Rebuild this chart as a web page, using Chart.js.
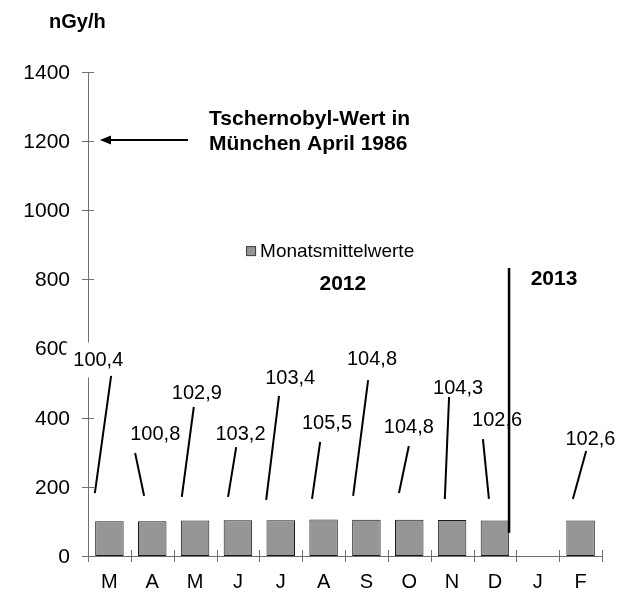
<!DOCTYPE html>
<html>
<head>
<meta charset="utf-8">
<script src="https://cdn.jsdelivr.net/npm/chart.js@4"></script>
<style>
body { margin: 0; background: #fff; }
</style>
</head>
<body>
<canvas id="doseChart" width="623" height="592"></canvas>
<script>
var months = ['M', 'A', 'M', 'J', 'J', 'A', 'S', 'O', 'N', 'D', 'J', 'F'];
var monthlyMeans = [100.4, 100.8, 102.9, 103.2, 103.4, 105.5, 104.8, 104.8, 104.3, 102.6, null, 102.6];
var yTicks = [0, 200, 400, 600, 800, 1000, 1200, 1400];
var chernobylValue = 1200;
var seriesName = 'Monatsmittelwerte';
var unitText = 'nGy/h';
var chernobylText = ['Tschernobyl-Wert in', 'München April 1986'];
var yearTexts = ['2012', '2013'];

// callout layout per bar: [text dx, text y, line top dx, line top y, line end dx, line end y]
// dx in category widths from the bar centre, y in nGy/h
var calloutSpots = [
    [-0.26, 567, 0.04, 521, -0.34, 182],
    [0.07, 353, -0.40, 298, -0.19, 174],
    [0.04, 473, -0.03, 431, -0.31, 171],
    [0.06, 353, -0.04, 315, -0.23, 171],
    [0.22, 516, -0.04, 463, -0.34, 162],
    [0.08, 386, -0.08, 330, -0.27, 165],
    [0.13, 570, 0.04, 509, -0.31, 174],
    [-0.01, 376, -0.01, 318, -0.24, 182],
    [0.14, 487, -0.07, 460, -0.17, 165],
    [0.05, 395, -0.28, 338, -0.14, 165],
    null,
    [0.23, 341, 0.13, 304, -0.18, 165]
];

var FONT = "'Liberation Sans', Arial, sans-serif";
var AXIS_GREY = '#707070';
var BAR_GREY = '#969696';

function fmt(v) {
    return v.toFixed(1).replace('.', ',');
}

var axesPlugin = {
    id: 'axesPlugin',
    beforeDatasetsDraw: function(chart) {
        var ctx = chart.ctx;
        var area = chart.chartArea;
        var x = chart.scales.x;
        var y = chart.scales.y;
        ctx.save();
        ctx.strokeStyle = AXIS_GREY;
        ctx.lineWidth = 1;
        ctx.beginPath();
        ctx.moveTo(area.left + 0.5, area.top);
        ctx.lineTo(area.left + 0.5, area.bottom + 6);
        ctx.moveTo(area.left - 6, area.bottom + 0.5);
        ctx.lineTo(area.right, area.bottom + 0.5);
        // y ticks cross the axis
        yTicks.forEach(function(t) {
            var py = Math.round(y.getPixelForValue(t)) + 0.5;
            ctx.moveTo(area.left - 6, py);
            ctx.lineTo(area.left + 6, py);
        });
        // x ticks sit on category boundaries
        for (var i = 0; i <= months.length; i++) {
            var px = Math.round(x.getPixelForValue(i - 0.5)) + 0.5;
            ctx.moveTo(px, area.bottom - 6);
            ctx.lineTo(px, area.bottom + 6);
        }
        ctx.stroke();

        ctx.fillStyle = '#000';
        ctx.font = '21px ' + FONT;
        ctx.textAlign = 'right';
        ctx.textBaseline = 'middle';
        yTicks.forEach(function(t) {
            ctx.fillText(String(t), area.left - 18, y.getPixelForValue(t) + 1);
        });
        ctx.font = '20px ' + FONT;
        ctx.textAlign = 'center';
        ctx.textBaseline = 'alphabetic';
        months.forEach(function(m, i) {
            ctx.fillText(m, x.getPixelForValue(i), area.bottom + 32);
        });
        ctx.restore();
    },
    afterDatasetsDraw: function(chart) {
        var ctx = chart.ctx;
        var area = chart.chartArea;
        var x = chart.scales.x;
        var y = chart.scales.y;
        ctx.save();

        // value callouts with leader lines
        ctx.font = '20px ' + FONT;
        ctx.textAlign = 'center';
        ctx.textBaseline = 'middle';
        monthlyMeans.forEach(function(v, i) {
            var s = calloutSpots[i];
            if (v === null || !s) return;
            var txt = fmt(v);
            var tx = x.getPixelForValue(i + s[0]);
            var ty = y.getPixelForValue(s[1]);
            var w = ctx.measureText(txt).width;
            ctx.fillStyle = '#fff';
            ctx.fillRect(tx - w / 2 - 7, ty - 17.5, w + 14, 35);
            ctx.fillStyle = '#000';
            ctx.fillText(txt, tx, ty + 1);
            ctx.strokeStyle = '#000';
            ctx.lineWidth = 2;
            ctx.beginPath();
            ctx.moveTo(x.getPixelForValue(i + s[2]), y.getPixelForValue(s[3]));
            ctx.lineTo(x.getPixelForValue(i + s[4]), y.getPixelForValue(s[5]));
            ctx.stroke();
        });

        // year divider after December
        var dx = x.getPixelForValue(9.33);
        ctx.lineWidth = 2.5;
        ctx.beginPath();
        ctx.moveTo(dx, y.getPixelForValue(833));
        ctx.lineTo(dx, y.getPixelForValue(67));
        ctx.stroke();

        ctx.font = 'bold 21px ' + FONT;
        ctx.textAlign = 'center';
        ctx.textBaseline = 'alphabetic';
        ctx.fillText(yearTexts[0], x.getPixelForValue(5.45), y.getPixelForValue(769));
        ctx.fillText(yearTexts[1], x.getPixelForValue(10.38), y.getPixelForValue(784));

        // Chernobyl reference arrow
        var ay = Math.round(y.getPixelForValue(chernobylValue)) - 1;
        var tip = x.getPixelForValue(-0.22);
        ctx.lineWidth = 2;
        ctx.beginPath();
        ctx.moveTo(x.getPixelForValue(1.835), ay);
        ctx.lineTo(tip + 8, ay);
        ctx.stroke();
        ctx.beginPath();
        ctx.moveTo(tip, ay);
        ctx.lineTo(tip + 11, ay - 4.5);
        ctx.lineTo(tip + 11, ay + 4.5);
        ctx.closePath();
        ctx.fill();

        ctx.textAlign = 'left';
        ctx.fillText(chernobylText[0], x.getPixelForValue(2.325), y.getPixelForValue(1247));
        ctx.fillText(chernobylText[1], x.getPixelForValue(2.325), y.getPixelForValue(1174));

        ctx.font = 'bold 20px ' + FONT;
        ctx.fillText(unitText, area.left - 39, area.top - 44);

        // legend
        var lx = x.getPixelForValue(3.19);
        var ly = y.getPixelForValue(882);
        ctx.fillStyle = BAR_GREY;
        ctx.fillRect(lx, ly - 5, 10, 10);
        ctx.strokeStyle = '#404040';
        ctx.lineWidth = 1;
        ctx.strokeRect(lx + 0.5, ly - 4.5, 9, 9);
        ctx.fillStyle = '#000';
        ctx.font = '19px ' + FONT;
        ctx.textBaseline = 'middle';
        ctx.fillText(seriesName, lx + 14, ly + 1);

        ctx.restore();
    }
};

var ctx = document.getElementById('doseChart').getContext('2d');
var doseChart = new Chart(ctx, {
    type: 'bar',
    data: {
        labels: months,
        datasets: [{
            label: seriesName,
            data: monthlyMeans,
            backgroundColor: BAR_GREY,
            borderColor: '#1a1a1a',
            borderWidth: 1,
            borderSkipped: false,
            barPercentage: 0.665,
            categoryPercentage: 1
        }]
    },
    options: {
        responsive: false,
        animation: false,
        layout: {
            padding: { left: 88, top: 72, right: 21, bottom: 36 }
        },
        plugins: {
            legend: { display: false },
            tooltip: { enabled: false }
        },
        scales: {
            x: {
                display: false,
                offset: true
            },
            y: {
                display: false,
                min: 0,
                max: 1400
            }
        }
    },
    plugins: [axesPlugin]
});
</script>
</body>
</html>
